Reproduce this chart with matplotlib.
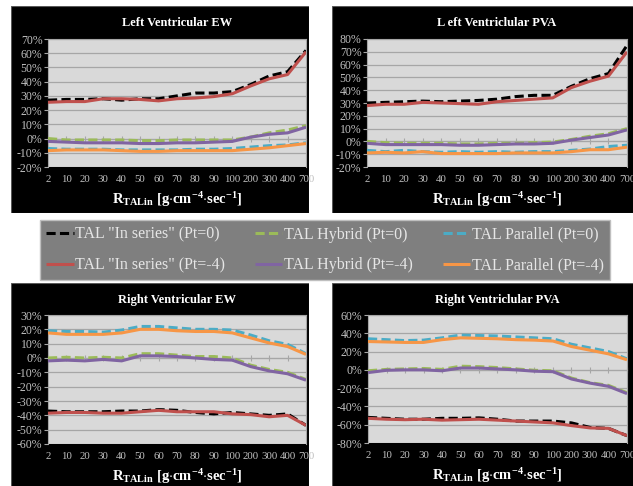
import numpy as np
import matplotlib
matplotlib.use("Agg")
import matplotlib.pyplot as plt
from matplotlib.patches import Rectangle
from matplotlib.ticker import FuncFormatter, MultipleLocator

plt.rcParams["font.family"] = ["Liberation Serif", "DejaVu Serif"]
plt.rcParams["mathtext.fontset"] = "custom"
plt.rcParams["mathtext.rm"] = "Liberation Serif"
plt.rcParams["mathtext.bf"] = "Liberation Serif:bold"

# =======================
# data (%)
# =======================
categories = ["2", "10", "20", "30", "40", "50", "60", "70", "80", "90",
              "100", "200", "300", "400", "700"]

series_names = ['TAL "In series" (Pt=0)', 'TAL Hybrid (Pt=0)', 'TAL Parallel (Pt=0)',
                'TAL "In series" (Pt=-4)', 'TAL Hybrid (Pt=-4)', 'TAL Parallel (Pt=-4)']

# Left Ventricular EW
lv_ew_series0 = [27, 27.5, 27.5, 28, 27, 28, 28, 30, 32, 32, 33, 38, 44, 47, 62]
lv_ew_hybrid0 = [0, -1, -1, -1, -1, -1.5, -1.5, -1, -1, -1, -1, 1, 4, 6, 9]
lv_ew_par0    = [-7, -7.5, -7.5, -7.5, -8, -8, -8, -8, -7.5, -7.5, -7, -6, -5, -4.5, -3]
lv_ew_series4 = [25.5, 26, 26, 28, 28, 27.5, 26.5, 28, 28.5, 29.5, 31.5, 37, 42, 45, 61]
lv_ew_hybrid4 = [-2, -2.5, -3, -3, -3, -3.5, -3.5, -3, -3, -2.5, -2, 1, 3, 4, 8]
lv_ew_par4    = [-8.5, -8, -8, -8, -8.5, -9, -9, -8.5, -8.5, -8.5, -8.5, -7.5, -6.5, -5, -3.5]

# Left Ventricular PVA
lv_pva_series0 = [30, 30.5, 31, 31.5, 31, 31.5, 32, 33, 35, 36, 36, 43, 49, 53, 75]
lv_pva_hybrid0 = [0, -1, -1.5, -1.5, -1.5, -2, -2, -1.5, -1.5, -1, -0.5, 1.5, 4, 6, 10]
lv_pva_par0    = [-7, -8, -7, -8, -8.5, -8, -8.5, -8, -8.5, -8, -8, -7, -6, -4, -3]
lv_pva_series4 = [28, 29, 29, 30.5, 30, 29.5, 29, 31, 32, 33, 34, 42, 47, 51, 70]
lv_pva_hybrid4 = [-1.5, -2.5, -2.5, -2.5, -2.5, -3, -3, -2.5, -2, -2, -1.5, 1, 3, 5, 9]
lv_pva_par4    = [-9, -8.5, -9, -8, -9.5, -9.5, -9.5, -9.5, -9, -9, -9, -8, -6.5, -6.5, -4.5]

# Right Ventricular EW
rv_ew_series0 = [-37, -37.5, -37.5, -37.5, -37, -37, -36, -36.5, -38, -39, -38, -39, -40, -39, -47]
rv_ew_hybrid0 = [0, 0.5, 0, 0.5, 0, 3, 3, 2, 1, 1, 0, -5, -8, -10, -15]
rv_ew_par0    = [19, 18.5, 18.5, 18, 19.5, 22, 22, 21, 20, 20, 19.5, 16, 12, 9.5, 3]
rv_ew_series4 = [-38.5, -38, -38, -38.5, -38.5, -37.5, -36.5, -37.5, -37.5, -37.5, -39, -39.5, -41, -40, -47]
rv_ew_hybrid4 = [-2, -1.5, -2, -1, -2, 1.5, 1.5, 1, 0, -1, -1.5, -6, -9, -11, -15.5]
rv_ew_par4    = [17.5, 16.5, 16.5, 16.5, 17.5, 20, 20, 19, 18.5, 18.5, 17.5, 14, 10.5, 8, 2.5]

# Right Ventricular PVA
rv_pva_series0 = [-52, -53, -54, -54, -53, -53, -52.5, -54, -56, -56, -56, -58, -63, -64, -72]
rv_pva_hybrid0 = [-1, 0.5, 1, 1.5, 0.5, 4, 3.5, 2.5, 1, -0.5, -1, -9, -14, -17, -25]
rv_pva_par0    = [34, 33, 32, 32.5, 35, 38, 37.5, 37, 36, 35, 34, 28, 24, 20, 12]
rv_pva_series4 = [-53, -54, -54.5, -54, -55, -54.5, -54, -55, -56, -57, -58, -61, -63.5, -64, -72]
rv_pva_hybrid4 = [-3, -0.5, 0, 0, -1, 2, 2, 1, 0, -1.5, -2, -10, -14.5, -18, -26]
rv_pva_par4    = [31, 30.5, 30, 30, 33, 35, 34.5, 34, 33, 32.5, 31.5, 25.5, 21.5, 17.5, 11]

# =======================
# styling
# =======================
W, H = 633, 486
colors = ["#000000", "#9BBB59", "#4BACC6", "#C0504D", "#8064A2", "#F79646"]
styles = ["--", "--", "--", "-", "-", "-"]
tick_col = "#C0C0C0"
grid_col = "#A6A6A6"


def frac(x0, y0, x1, y1):
    return [x0 / W, 1 - y1 / H, (x1 - x0) / W, (y1 - y0) / H]


fig = plt.figure(figsize=(W / 100, H / 100), dpi=100)
fig.patch.set_facecolor("white")

panels = [
    ("Left Ventricular EW", (11, 6, 309, 213), (48, 39, 306, 167), (-20, 70, 10),
     [lv_ew_series0, lv_ew_hybrid0, lv_ew_par0, lv_ew_series4, lv_ew_hybrid4, lv_ew_par4]),
    ("L eft Ventriclular PVA", (332, 6, 640, 213), (367, 39, 627, 167), (-20, 80, 10),
     [lv_pva_series0, lv_pva_hybrid0, lv_pva_par0, lv_pva_series4, lv_pva_hybrid4, lv_pva_par4]),
    ("Right Ventricular EW", (11, 283, 309, 490), (48, 315, 306, 444), (-60, 30, 10),
     [rv_ew_series0, rv_ew_hybrid0, rv_ew_par0, rv_ew_series4, rv_ew_hybrid4, rv_ew_par4]),
    ("Right Ventriclular PVA", (332, 283, 640, 490), (368, 315, 627, 443), (-80, 60, 20),
     [rv_pva_series0, rv_pva_hybrid0, rv_pva_par0, rv_pva_series4, rv_pva_hybrid4, rv_pva_par4]),
]

x = np.arange(len(categories))
handles = []

for title, box, area, (ymin, ymax, ystep), data in panels:
    # black panel behind each chart
    bg = fig.add_axes(frac(*box), zorder=-5)
    bg.add_patch(Rectangle((0, 0), 1, 1, transform=bg.transAxes, facecolor="black",
                           edgecolor="#595959", lw=0.8))
    bg.set_axis_off()

    ax = fig.add_axes(frac(*area), zorder=1)
    ax.set_facecolor("#D9D9D9")

    # dashed first, solid on top
    hs = []
    for vals, c, ls in zip(data, colors, styles):
        if ls == "--":
            h, = ax.plot(x, vals, color=c, lw=2.2, dashes=(3, 1.4), zorder=3)
        else:
            h, = ax.plot(x, vals, color=c, lw=2.2, solid_capstyle="butt", zorder=4)
        hs.append(h)
    handles = hs

    ax.set_xlim(0, len(categories) - 1)
    ax.set_ylim(ymin, ymax)
    ax.yaxis.set_major_locator(MultipleLocator(ystep))
    ax.yaxis.set_major_formatter(FuncFormatter(lambda v, p: f"{v:.0f}%"))
    ax.grid(axis="y", color=grid_col, lw=0.9, zorder=1)
    ax.set_axisbelow(True)
    ax.tick_params(axis="y", colors=grid_col, labelcolor=tick_col, labelsize=8.5,
                   length=3, width=0.8, pad=1)

    # category axis crosses at 0 with small ticks, labels at bottom
    ax.spines["bottom"].set_position(("data", 0))
    ax.spines["bottom"].set_color(grid_col)
    ax.set_xticks(x)
    ax.tick_params(axis="x", direction="inout", length=5, width=0.8, colors=grid_col,
                   labelbottom=False)
    for s in ["left", "right", "top"]:
        ax.spines[s].set_color(grid_col)
        ax.spines[s].set_linewidth(0.8)

    sec = ax.secondary_xaxis(0)
    sec.set_xticks(x, categories)
    sec.tick_params(length=0, labelsize=7.8, labelcolor=tick_col, pad=6)
    sec.spines["bottom"].set_visible(False)
    sec.set_xlabel(r"$\mathbf{R_{TALin}}$ $\mathbf{[g{\cdot}cm^{-4}{\cdot}sec^{-1}]}$",
                   color="white", fontsize=10.5, labelpad=4)

    ax.set_title(title, color="white", fontsize=9, fontweight="bold", pad=9)

# =======================
# legend
# =======================
order = [0, 3, 1, 4, 2, 5]
lx0, ly0, lx1, ly1 = 40, 220, 610, 280
leg = fig.legend([handles[i] for i in order], [series_names[i] for i in order],
                 ncol=3, loc="center", mode="expand",
                 bbox_to_anchor=(lx0 / W, 1 - ly1 / H, (lx1 - lx0) / W, (ly1 - ly0) / H),
                 frameon=True, fancybox=False, fontsize=11.5, labelcolor="#E6E6E6",
                 handlelength=1.7, handletextpad=0.1, columnspacing=1.0,
                 labelspacing=0.9, borderpad=0.4, borderaxespad=0)
leg.get_frame().set_facecolor("#7F7F7F")
leg.get_frame().set_edgecolor("#BFBFBF")
leg.get_frame().set_alpha(1)

fig.savefig("out.png", dpi=100, facecolor=fig.get_facecolor())
